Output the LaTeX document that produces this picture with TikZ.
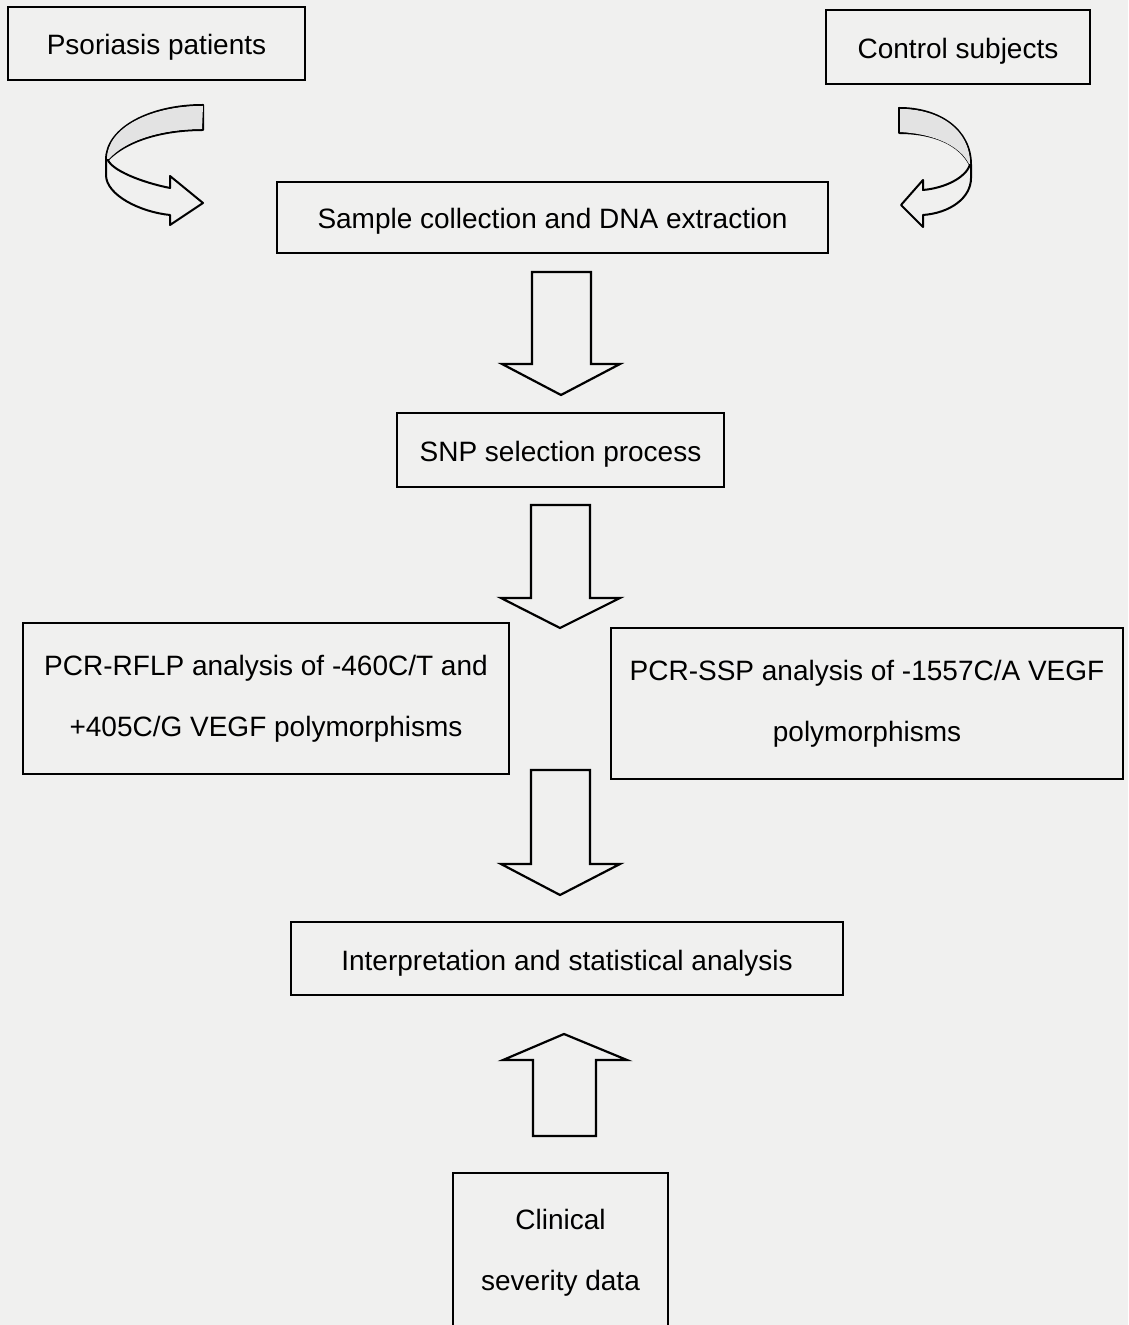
\documentclass[tikz,border=0pt]{standalone}
\usepackage{fontspec}
\setmainfont{Liberation Sans}
\usepackage{tikz}
\usetikzlibrary{positioning, calc}
\definecolor{scan}{RGB}{240,240,239}

\begin{document}
\begin{tikzpicture}[x=0.5pt,y=-0.5pt,box/.style={draw, line width=1.1pt, inner sep=0pt, align=center, font=\fontsize{14}{30.5}\selectfont},oneline/.style={text height=11.5pt, text depth=0pt},fatarr/.style={draw, line width=1.1pt, line join=miter, fill=scan},bendarr/.style={draw, line width=1pt, line join=round, fill=scan},band/.style={fill=gray!22}]
\fill[scan] (0,0) rectangle (1128,1325); \useasboundingbox (0,0) rectangle (1128,1325);
\node[box, oneline, minimum width=148.5pt, minimum height=36.5pt] (pso) at (156.5,43.5) {Psoriasis patients};
\node[box, oneline, minimum width=132pt, minimum height=37pt] (ctrl) at (958,47) {Control subjects};
\node[box, oneline, minimum width=275.5pt, minimum height=35.5pt] (dna) at (552.5,217.5) {Sample collection and DNA extraction};
\node[box, oneline, minimum width=163.5pt, minimum height=37pt] (snp) at (560.5,450) {SNP selection process};
\node[box, minimum width=243pt, minimum height=75.5pt] (rflp) at (266,698.5) {PCR-RFLP analysis of -460C/T and\\+405C/G VEGF polymorphisms};
\node[box, minimum width=256pt, minimum height=75.5pt] (ssp) at (867,703.5) {PCR-SSP analysis of -1557C/A VEGF\\polymorphisms};
\node[box, oneline, minimum width=276pt, minimum height=36.5pt] (interp) at (567,958.5) {Interpretation and statistical analysis};
\node[box, minimum width=107.5pt, minimum height=80pt] (clin) at (560.5,1253) {Clinical\\severity data};
\draw[bendarr] (203,105) .. controls (150,105) and (106,128) .. (106,160) -- (106,175) .. controls (106,195) and (140,212) .. (170,215) -- (170,225) -- (203,203) -- (170,176) -- (170,188) .. controls (140,182) and (112,170) .. (108,160) .. controls (125,142) and (160,130) .. (203,130) -- cycle;
\fill[band] (203,106) .. controls (150,106) and (107,128) .. (107,159) -- (109,159) .. controls (125,141) and (160,129) .. (202,129) -- cycle;
\draw[bendarr] (899,108) .. controls (940,108) and (971,130) .. (971,165) -- (971,178) .. controls (971,198) and (950,213) .. (923,215) -- (923,227) -- (901,205) -- (923,180) -- (923,190) .. controls (945,188) and (965,178) .. (970,165) .. controls (960,145) and (935,133) .. (899,133) -- cycle;
\fill[band] (900,109) .. controls (940,109) and (970,130) .. (970,164) -- (969,164) .. controls (960,146) and (935,134) .. (900,132) -- cycle;
\draw[fatarr] (532,272) -- (532,364) -- (502,364) -- (561,395) -- (620,364) -- (591,364) -- (591,272) -- cycle;
\draw[fatarr] (531,505) -- (531,598) -- (501,598) -- (560,628) -- (620,598) -- (590,598) -- (590,505) -- cycle;
\draw[fatarr] (531,770) -- (531,864) -- (501,864) -- (560,895) -- (620,864) -- (590,864) -- (590,770) -- cycle;
\draw[fatarr] (533,1136) -- (533,1060) -- (503,1060) -- (564,1034) -- (627,1060) -- (596,1060) -- (596,1136) -- cycle;
\end{tikzpicture}
\end{document}
